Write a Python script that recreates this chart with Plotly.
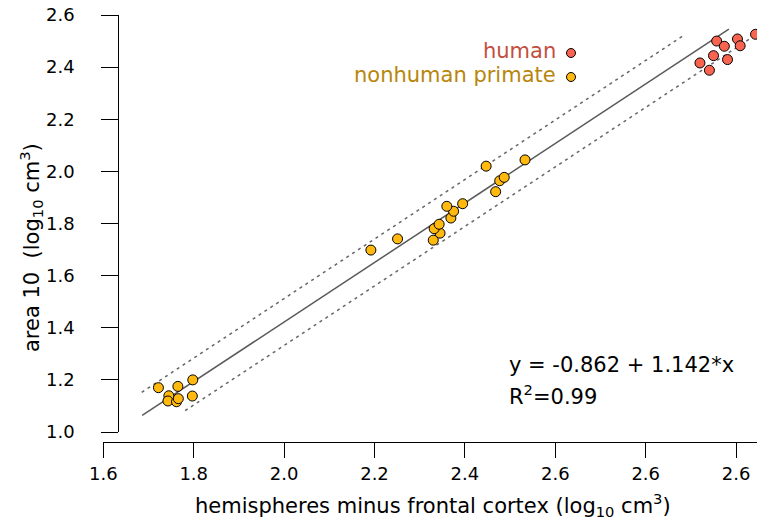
import plotly.graph_objects as go

# ---- data (log10 cm^3) ----
nonhuman_x = [1.722, 1.765, 1.798, 1.745, 1.743, 1.762, 1.766, 1.797,
              2.192, 2.251, 2.330, 2.345, 2.332, 2.343, 2.369, 2.375,
              2.360, 2.395, 2.468, 2.477, 2.487, 2.447, 2.533]
nonhuman_y = [1.170, 1.175, 1.200, 1.139, 1.119, 1.116, 1.128, 1.138,
              1.698, 1.741, 1.736, 1.763, 1.780, 1.797, 1.821, 1.847,
              1.866, 1.876, 1.922, 1.964, 1.977, 2.020, 2.044]
human_x = [2.957, 2.974, 3.003, 3.009, 3.043, 2.950, 2.981, 2.920, 2.941]
human_y = [2.500, 2.480, 2.508, 2.482, 2.526, 2.444, 2.429, 2.416, 2.388]

fit_intercept = -0.862
fit_slope = 1.142
fit_x_range = [1.686, 2.984]
upper_x_range = [1.685, 2.887]
lower_x_range = [1.781, 3.07]
band_offset = 0.09

x_tickvals = [1.6, 1.8, 2.0, 2.2, 2.4, 2.6, 2.8, 3.0]
x_ticktext = ["1.6", "1.8", "2.0", "2.2", "2.4", "2.6", "2.6", "2.6"]
y_tickvals = [1.0, 1.2, 1.4, 1.6, 1.8, 2.0, 2.2, 2.4, 2.6]
y_ticktext = ["1.0", "1.2", "1.4", "1.6", "1.8", "2.0", "2.2", "2.4", "2.6"]

HUMAN_FILL = "#F86450"
NONHUMAN_FILL = "#FFB90F"
HUMAN_TEXT = "#C24F3E"
NONHUMAN_TEXT = "#B8860B"
FONT = "DejaVu Sans"
TXT = 21


def fit(x, off=0.0):
    return [fit_intercept + fit_slope * v + off for v in x]


fig = go.Figure()
fig.add_trace(go.Scatter(x=upper_x_range, y=fit(upper_x_range, band_offset), mode="lines",
                         line=dict(color="#666666", width=1.5, dash="3px,4px"),
                         showlegend=False, hoverinfo="skip"))
fig.add_trace(go.Scatter(x=lower_x_range, y=fit(lower_x_range, -band_offset), mode="lines",
                         line=dict(color="#666666", width=1.5, dash="3px,4px"),
                         showlegend=False, hoverinfo="skip"))
fig.add_trace(go.Scatter(x=fit_x_range, y=fit(fit_x_range), mode="lines",
                         line=dict(color="#5a5a5a", width=1.5),
                         showlegend=False, hoverinfo="skip"))
fig.add_trace(go.Scatter(x=nonhuman_x, y=nonhuman_y, mode="markers", name="nonhuman primate",
                         marker=dict(size=10, color=NONHUMAN_FILL, line=dict(color="black", width=1)),
                         showlegend=False, cliponaxis=False))
fig.add_trace(go.Scatter(x=human_x, y=human_y, mode="markers", name="human",
                         marker=dict(size=10, color=HUMAN_FILL, line=dict(color="black", width=1)),
                         showlegend=False, cliponaxis=False))

# page body has an 8px margin: shrink the figure and shift all positions by it
OFF = 8
W, H = 765 - OFF, 521 - OFF
ML, MR, MT = 103 - OFF, 0, 15 - OFF
XAXIS_Y = 442 - OFF
MB = H - XAXIS_Y
pw, ph = W - ML - MR, H - MT - MB


def px(xp):
    return (xp - OFF - ML) / pw


def py(yp):
    return (XAXIS_Y - (yp - OFF)) / ph


annotations = [
    dict(text="human", x=px(558), y=py(51), xref="paper", yref="paper",
         xanchor="right", yanchor="middle", showarrow=False,
         font=dict(family=FONT, size=TXT, color=HUMAN_TEXT)),
    dict(text="nonhuman primate", x=px(558), y=py(75), xref="paper", yref="paper",
         xanchor="right", yanchor="middle", showarrow=False,
         font=dict(family=FONT, size=TXT, color=NONHUMAN_TEXT)),
    dict(text="y = -0.862 + 1.142*x", x=px(507), y=py(365), xref="paper", yref="paper",
         xanchor="left", yanchor="middle", showarrow=False,
         font=dict(family=FONT, size=TXT, color="black")),
    dict(text="R<sup>2</sup>=0.99", x=px(507), y=py(395), xref="paper", yref="paper",
         xanchor="left", yanchor="middle", showarrow=False,
         font=dict(family=FONT, size=TXT, color="black")),
    dict(text="area 10  (log<sub>10</sub> cm<sup>3</sup>)", x=px(31), y=py(248),
         xref="paper", yref="paper", textangle=-90, xanchor="center", yanchor="middle",
         showarrow=False, font=dict(family=FONT, size=TXT, color="black")),
    dict(text="hemispheres minus frontal cortex (log<sub>10</sub> cm<sup>3</sup>)",
         x=px(433), y=py(505), xref="paper", yref="paper", xanchor="center", yanchor="middle",
         showarrow=False, font=dict(family=FONT, size=TXT, color="black")),
]

shapes = [
    dict(type="circle", xref="paper", yref="paper", xsizemode="pixel", ysizemode="pixel",
         xanchor=px(571), yanchor=py(53), x0=-4.5, x1=4.5, y0=-4.5, y1=4.5,
         fillcolor=HUMAN_FILL, line=dict(color="black", width=1)),
    dict(type="circle", xref="paper", yref="paper", xsizemode="pixel", ysizemode="pixel",
         xanchor=px(571), yanchor=py(77), x0=-4.5, x1=4.5, y0=-4.5, y1=4.5,
         fillcolor=NONHUMAN_FILL, line=dict(color="black", width=1)),
]

PX_PER_UNIT_X = 452.0
x_lo = 1.6 - 0.3 / PX_PER_UNIT_X
x_hi = x_lo + pw / PX_PER_UNIT_X

fig.update_layout(
    width=W, height=H,
    margin=dict(l=ML, r=MR, t=MT, b=MB, autoexpand=False),
    plot_bgcolor="white", paper_bgcolor="white",
    font=dict(family=FONT, size=18, color="black"),
    showlegend=False,
    xaxis=dict(range=[x_lo, x_hi], domain=[0, 1], anchor="free", position=0,
               tickvals=x_tickvals, ticktext=x_ticktext, ticks="outside", ticklen=15,
               tickwidth=1, tickcolor="black", showline=True, linecolor="black", linewidth=1,
               showgrid=False, zeroline=False, tickfont=dict(family=FONT, size=18),
               ticklabeloverflow="allow"),
    yaxis=dict(range=[1.0, 2.6], domain=[py(432), 1], anchor="free",
               position=px(118.3), tickvals=y_tickvals, ticktext=y_ticktext,
               ticks="outside", ticklen=17, tickwidth=1, tickcolor="black",
               showline=True, linecolor="black", linewidth=1, showgrid=False,
               zeroline=False, tickfont=dict(family=FONT, size=18), ticklabelstandoff=23,
               ticklabeloverflow="allow"),
    annotations=annotations,
    shapes=shapes,
)

fig.write_html("out.html")
